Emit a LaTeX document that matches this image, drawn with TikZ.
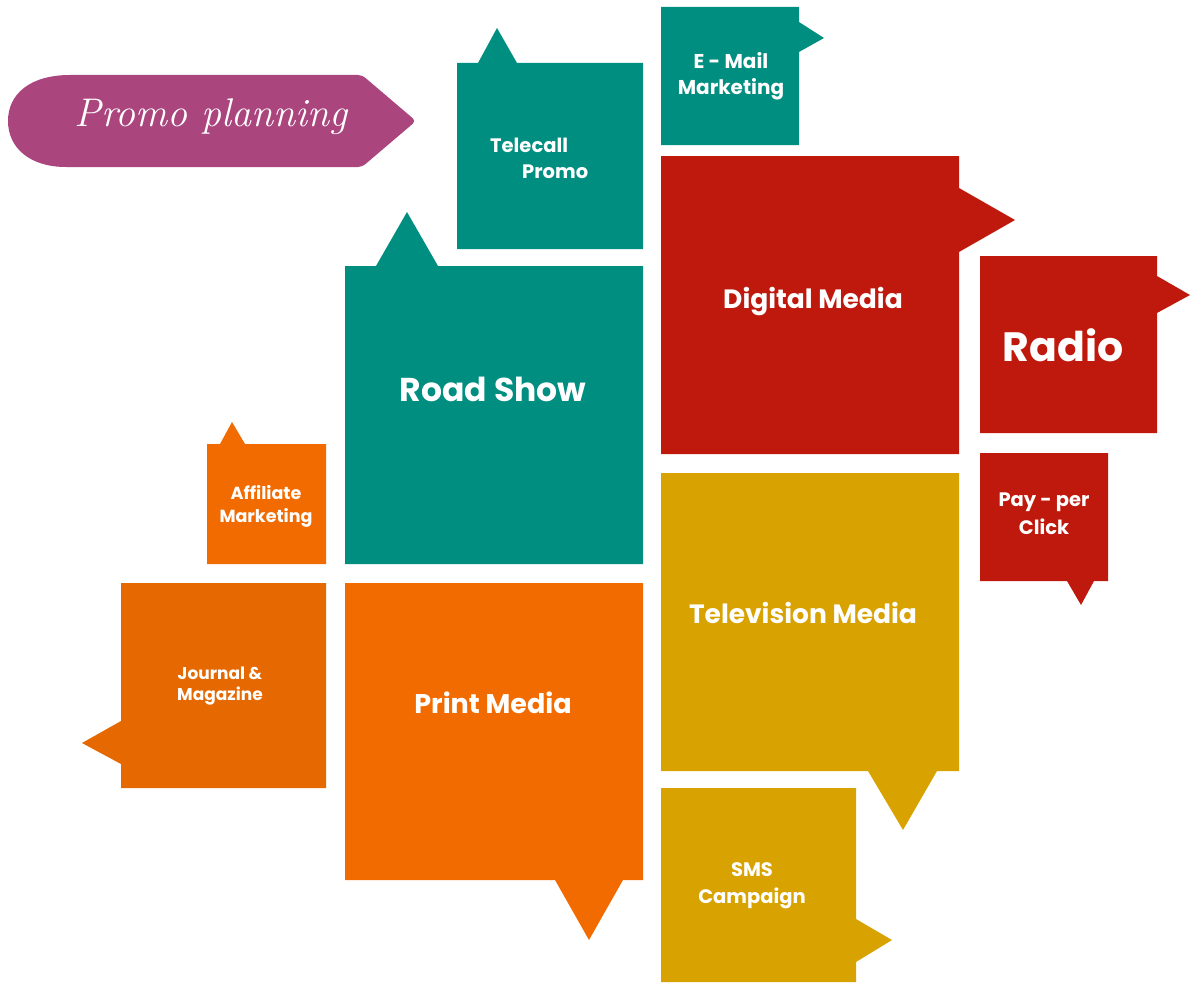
\documentclass[tikz,border=0pt]{standalone}
\usepackage{fontspec}
\setmainfont{Poppins}
\newfontfamily\scriptfnt{Latin Modern Roman}
\definecolor{cteal}{HTML}{008E80}
\definecolor{cred}{HTML}{BE190C}
\definecolor{cgold}{HTML}{D8A200}
\definecolor{corange}{HTML}{F26B00}
\definecolor{cdorange}{HTML}{E56800}
\definecolor{cmag}{HTML}{AA457E}
\tikzset{
  lbl/.style={text=white,font=\bfseries\fontsize{#1}{#1}\selectfont,inner sep=0pt,anchor=center},
}
\begin{document}
\begin{tikzpicture}[x=1pt,y=-1pt]
\useasboundingbox (0,0) rectangle (1200,990);
% Promo planning pill
\fill[cmag,rounded corners=4pt] (70,75) -- (362,75) -- (416,121) -- (362,167) -- (70,167) [sharp corners] .. controls (30,167) and (8,148) .. (8,121) .. controls (8,94) and (30,75) .. (70,75) -- cycle;
\node[text=white,font=\scriptfnt\itshape\fontsize{40}{40}\selectfont,inner sep=0pt] (promo) at (211,117) {Promo planning};
% Telecall Promo
\fill[cteal] (457,63) -- (478,63) -- (497,28) -- (517,63) -- (643,63) -- (643,249) -- (457,249) -- cycle;
\node[lbl=19.5,anchor=west] (tel1) at (490,145) {Telecall};
\node[lbl=19.5,anchor=west] (tel2) at (522,172) {Promo};
% E-Mail Marketing
\fill[cteal] (661,7) -- (799,7) -- (799,22) -- (824,38) -- (799,52) -- (799,145) -- (661,145) -- cycle;
\node[lbl=20] (em1) at (731,61) {E - Mail};
\node[lbl=20] (em2) at (731,89) {Marketing};
% Digital Media
\fill[cred] (661,156) -- (959,156) -- (959,188) -- (1015,220) -- (959,252) -- (959,454) -- (661,454) -- cycle;
\node[lbl=26.5] (dig) at (813,302) {Digital Media};
% Radio
\fill[cred] (980,256) -- (1157,256) -- (1157,276) -- (1190,295) -- (1157,313) -- (1157,433) -- (980,433) -- cycle;
\node[lbl=41] (radio) at (1063,345) {Radio};
% Pay per click
\fill[cred] (980,453) -- (1108,453) -- (1108,581) -- (1094,581) -- (1081,605) -- (1067,581) -- (980,581) -- cycle;
\node[lbl=19.5] (ppc1) at (1044,502) {Pay - per};
\node[lbl=19.5] (ppc2) at (1044,527) {Click};
% Road Show
\fill[cteal] (345,266) -- (376,266) -- (407,212) -- (438,266) -- (643,266) -- (643,564) -- (345,564) -- cycle;
\node[lbl=33] (road) at (493,389) {Road Show};
% Affiliate Marketing
\fill[corange] (207,444) -- (220,444) -- (232,422) -- (245,444) -- (326,444) -- (326,564) -- (207,564) -- cycle;
\node[lbl=17.5] (aff1) at (266,493) {Affiliate};
\node[lbl=17.5] (aff2) at (266,518) {Marketing};
% Journal & Magazine
\fill[cdorange] (121,583) -- (326,583) -- (326,788) -- (121,788) -- (121,764) -- (82,743) -- (121,721) -- cycle;
\node[lbl=17] (jm1) at (220,673) {Journal \&};
\node[lbl=17] (jm2) at (220,696) {Magazine};
% Print Media
\fill[corange] (345,583) -- (643,583) -- (643,880) -- (623,880) -- (589,940) -- (555,880) -- (345,880) -- cycle;
\node[lbl=27] (print) at (493,703) {Print Media};
% Television Media
\fill[cgold] (661,473) -- (959,473) -- (959,771) -- (937,771) -- (903,830) -- (868,771) -- (661,771) -- cycle;
\node[lbl=26.5] (tv) at (803,613) {Television Media};
% SMS Campaign
\fill[cgold] (661,788) -- (856,788) -- (856,919) -- (892,940) -- (856,962) -- (856,982) -- (661,982) -- cycle;
\node[lbl=19.5] (sms1) at (752,870) {SMS};
\node[lbl=19.5] (sms2) at (752,898) {Campaign};
\end{tikzpicture}
\end{document}
